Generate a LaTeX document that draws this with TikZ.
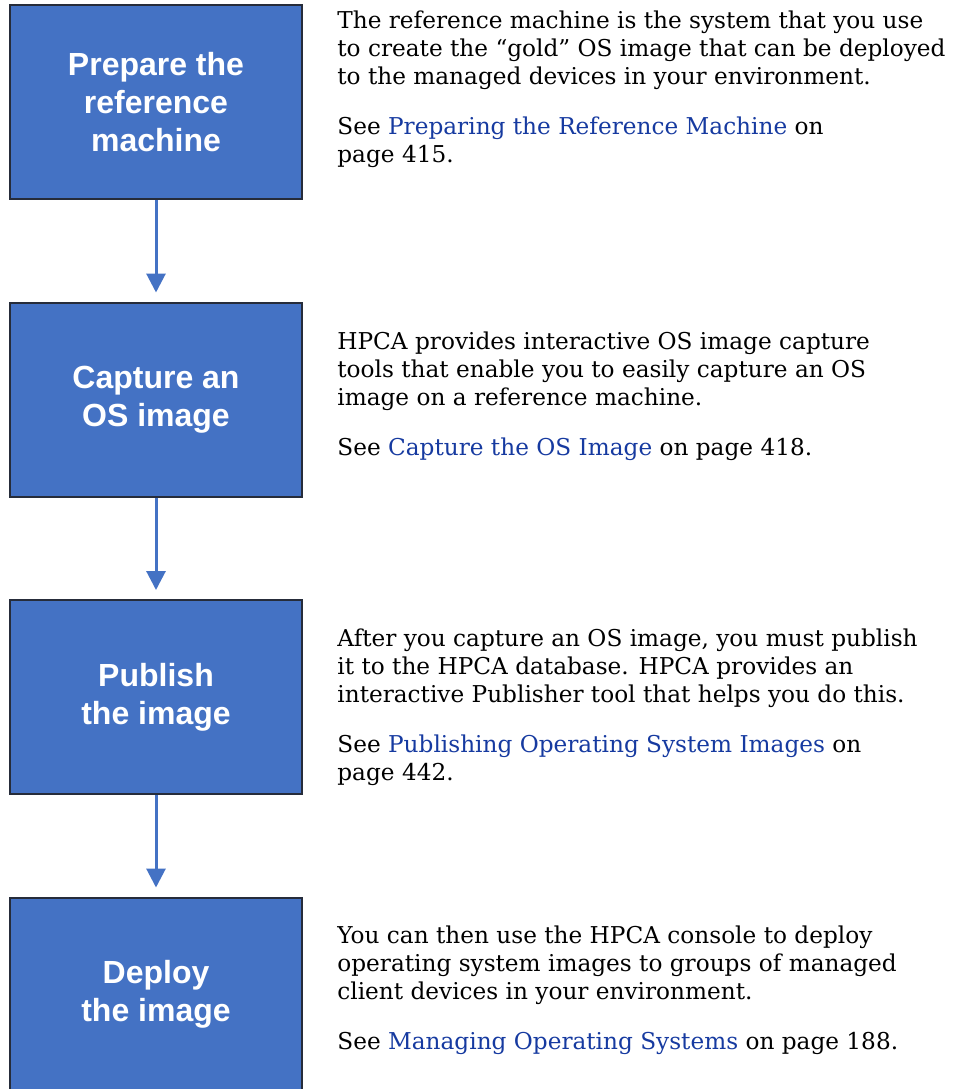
\documentclass[tikz,border=0pt]{standalone}
\usepackage{fontspec}
\setmainfont{DejaVu Serif}
\newfontfamily\boxfont{Liberation Sans}
\usepackage{xcolor}
\usepackage{tikz}
\usetikzlibrary{arrows.meta}

\definecolor{stepblue}{RGB}{68,114,196}
\definecolor{stepedge}{RGB}{38,44,58}
\definecolor{linkblue}{RGB}{22,58,160}
\newcommand{\seelink}[1]{\textcolor{linkblue}{#1}}

\begin{document}
\begin{tikzpicture}[
				x=0.5pt, y=-0.5pt,
				box style/.style={
					draw=stepedge,
					line width=1pt,
					fill=stepblue,
					align=center,
					minimum width=146pt,
					minimum height=97pt,
					inner sep=0pt,
					text=white,
					font=\boxfont\bfseries\fontsize{16}{19}\selectfont
				},
				desc style/.style={
					anchor=north west,
					align=left,
					inner sep=0pt,
					font=\fontsize{11.6}{14}\selectfont
				},
				arrow style/.style={
					draw=stepblue,
					line width=1.5pt,
					shorten >=4.5pt
				},
				>={Triangle[width=9.5pt,length=9.5pt]}
				]
				
				\clip (0,0) rectangle (958,1089);
				
				\node[box style] (prepare) at (156,102) 
				{Prepare the\\reference\\machine};
				
				\node[box style] (capture) at (156,399.5) 
				{Capture an\\OS image};
				
				\node[box style] (publish) at (156,697) 
				{Publish\\the image};
				
				\node[box style] (deploy) at (156,994.5) 
				{Deploy\\the image};
				
				\node[desc style] (desc1) at (337,10) 
				{The reference machine is the system that you use\\
				to create the “gold” OS image that can be deployed\\
				to the managed devices in your environment.\\[11pt]
				See \seelink{Preparing the Reference Machine} on\\
				page 415.};
				
				\node[desc style] (desc2) at (337,331) 
				{HPCA provides interactive OS image capture\\
				tools that enable you to easily capture an OS\\
				image on a reference machine.\\[11pt]
				See \seelink{Capture the OS Image} on page 418.};
				
				\node[desc style] (desc3) at (337,628) 
				{After you capture an OS image, you must publish\\
				it to the HPCA database. HPCA provides an\\
				interactive Publisher tool that helps you do this.\\[11pt]
				See \seelink{Publishing Operating System Images} on\\
				page 442.};
				
				\node[desc style] (desc4) at (337,925) 
				{You can then use the HPCA console to deploy\\
				operating system images to groups of managed\\
				client devices in your environment.\\[11pt]
				See \seelink{Managing Operating Systems} on page 188.};
				
				\draw[->, arrow style] (prepare) -- (capture);
				\draw[->, arrow style] (capture) -- (publish);
				\draw[->, arrow style] (publish) -- (deploy);
				
			\end{tikzpicture}
\end{document}
